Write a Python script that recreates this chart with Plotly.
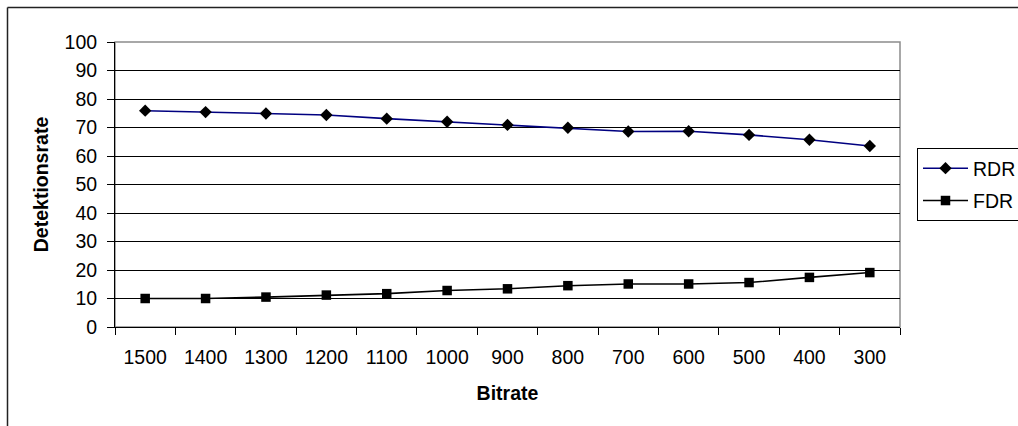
import plotly.graph_objects as go

# Bitrate categories (descending) and detection rates in percent
bitrate = ["1500", "1400", "1300", "1200", "1100", "1000", "900",
           "800", "700", "600", "500", "400", "300"]
rdr = [75.9, 75.4, 74.9, 74.4, 73.1, 72.0, 70.9, 69.9, 68.6, 68.7, 67.4, 65.7, 63.5]
fdr = [10.0, 10.0, 10.5, 11.2, 11.7, 12.8, 13.4, 14.5, 15.1, 15.1, 15.6, 17.4, 19.1]

W, H = 1018, 426
ML, MR, MT, MB = 115, 118, 42, 99
PW, PH = W - ML - MR, H - MT - MB

FONT = "Liberation Sans, Arial, sans-serif"
FS = 19.5

fig = go.Figure()
fig.add_trace(go.Scatter(
    x=bitrate, y=rdr, name="RDR", mode="lines+markers", legendgroup="rdr",
    line=dict(color="#000080", width=1.6),
    marker=dict(symbol="diamond", size=9.5, color="black", line=dict(width=0)),
))
fig.add_trace(go.Scatter(
    x=bitrate, y=fdr, name="FDR", mode="lines+markers", legendgroup="fdr",
    line=dict(color="black", width=1.6),
    marker=dict(symbol="square", size=9.5, color="black", line=dict(width=0)),
))


def px_x(v):
    return (v - ML) / PW


def px_y(v):
    return (H - MB - v) / PH


shapes = [
    # plot-area frame (grey)
    dict(type="rect", xref="paper", yref="paper", x0=0, x1=1, y0=0, y1=1,
         line=dict(color="#8c8c8c", width=1.5), layer="between"),
    # outer chart border
    dict(type="line", xref="paper", yref="paper", x0=px_x(7.5), x1=px_x(7.5),
         y0=px_y(7.5), y1=px_y(440), line=dict(color="#222222", width=1.5)),
    dict(type="line", xref="paper", yref="paper", x0=px_x(7.5), x1=px_x(1030),
         y0=px_y(7.5), y1=px_y(7.5), line=dict(color="#222222", width=1.5)),
]

fig.update_layout(
    width=W, height=H,
    margin=dict(l=ML, r=MR, t=MT, b=MB, pad=0, autoexpand=False),
    paper_bgcolor="white", plot_bgcolor="white",
    font=dict(family=FONT, size=FS, color="black"),
    showlegend=True,
    legend=dict(
        x=px_x(917), y=px_y(148), xanchor="left", yanchor="top",
        bordercolor="black", borderwidth=1, bgcolor="white",
        traceorder="grouped", tracegroupgap=4, itemwidth=45,
        font=dict(family=FONT, size=FS, color="black"),
    ),
    shapes=shapes,
    xaxis=dict(
        type="category", range=[-0.5, len(bitrate) - 0.5], autorange=False,
        showgrid=False, zeroline=False,
        showline=True, linecolor="black", linewidth=1,
        ticks="outside", ticklen=7, tickcolor="black", tickwidth=1,
        tickson="boundaries", ticklabelstandoff=13,
        tickfont=dict(family=FONT, size=FS),
        title=dict(text="<b>Bitrate</b>", standoff=18,
                   font=dict(family=FONT, size=FS)),
    ),
    yaxis=dict(
        range=[0, 100], dtick=10, tick0=0,
        showgrid=True, gridcolor="black", gridwidth=1, zeroline=False,
        showline=True, linecolor="black", linewidth=1,
        ticks="outside", ticklen=7, tickcolor="black", tickwidth=1,
        ticklabelstandoff=6,
        tickfont=dict(family=FONT, size=FS),
        title=dict(text="<b>Detektionsrate</b>", standoff=10,
                   font=dict(family=FONT, size=FS)),
    ),
)

fig.write_html("out.html")
